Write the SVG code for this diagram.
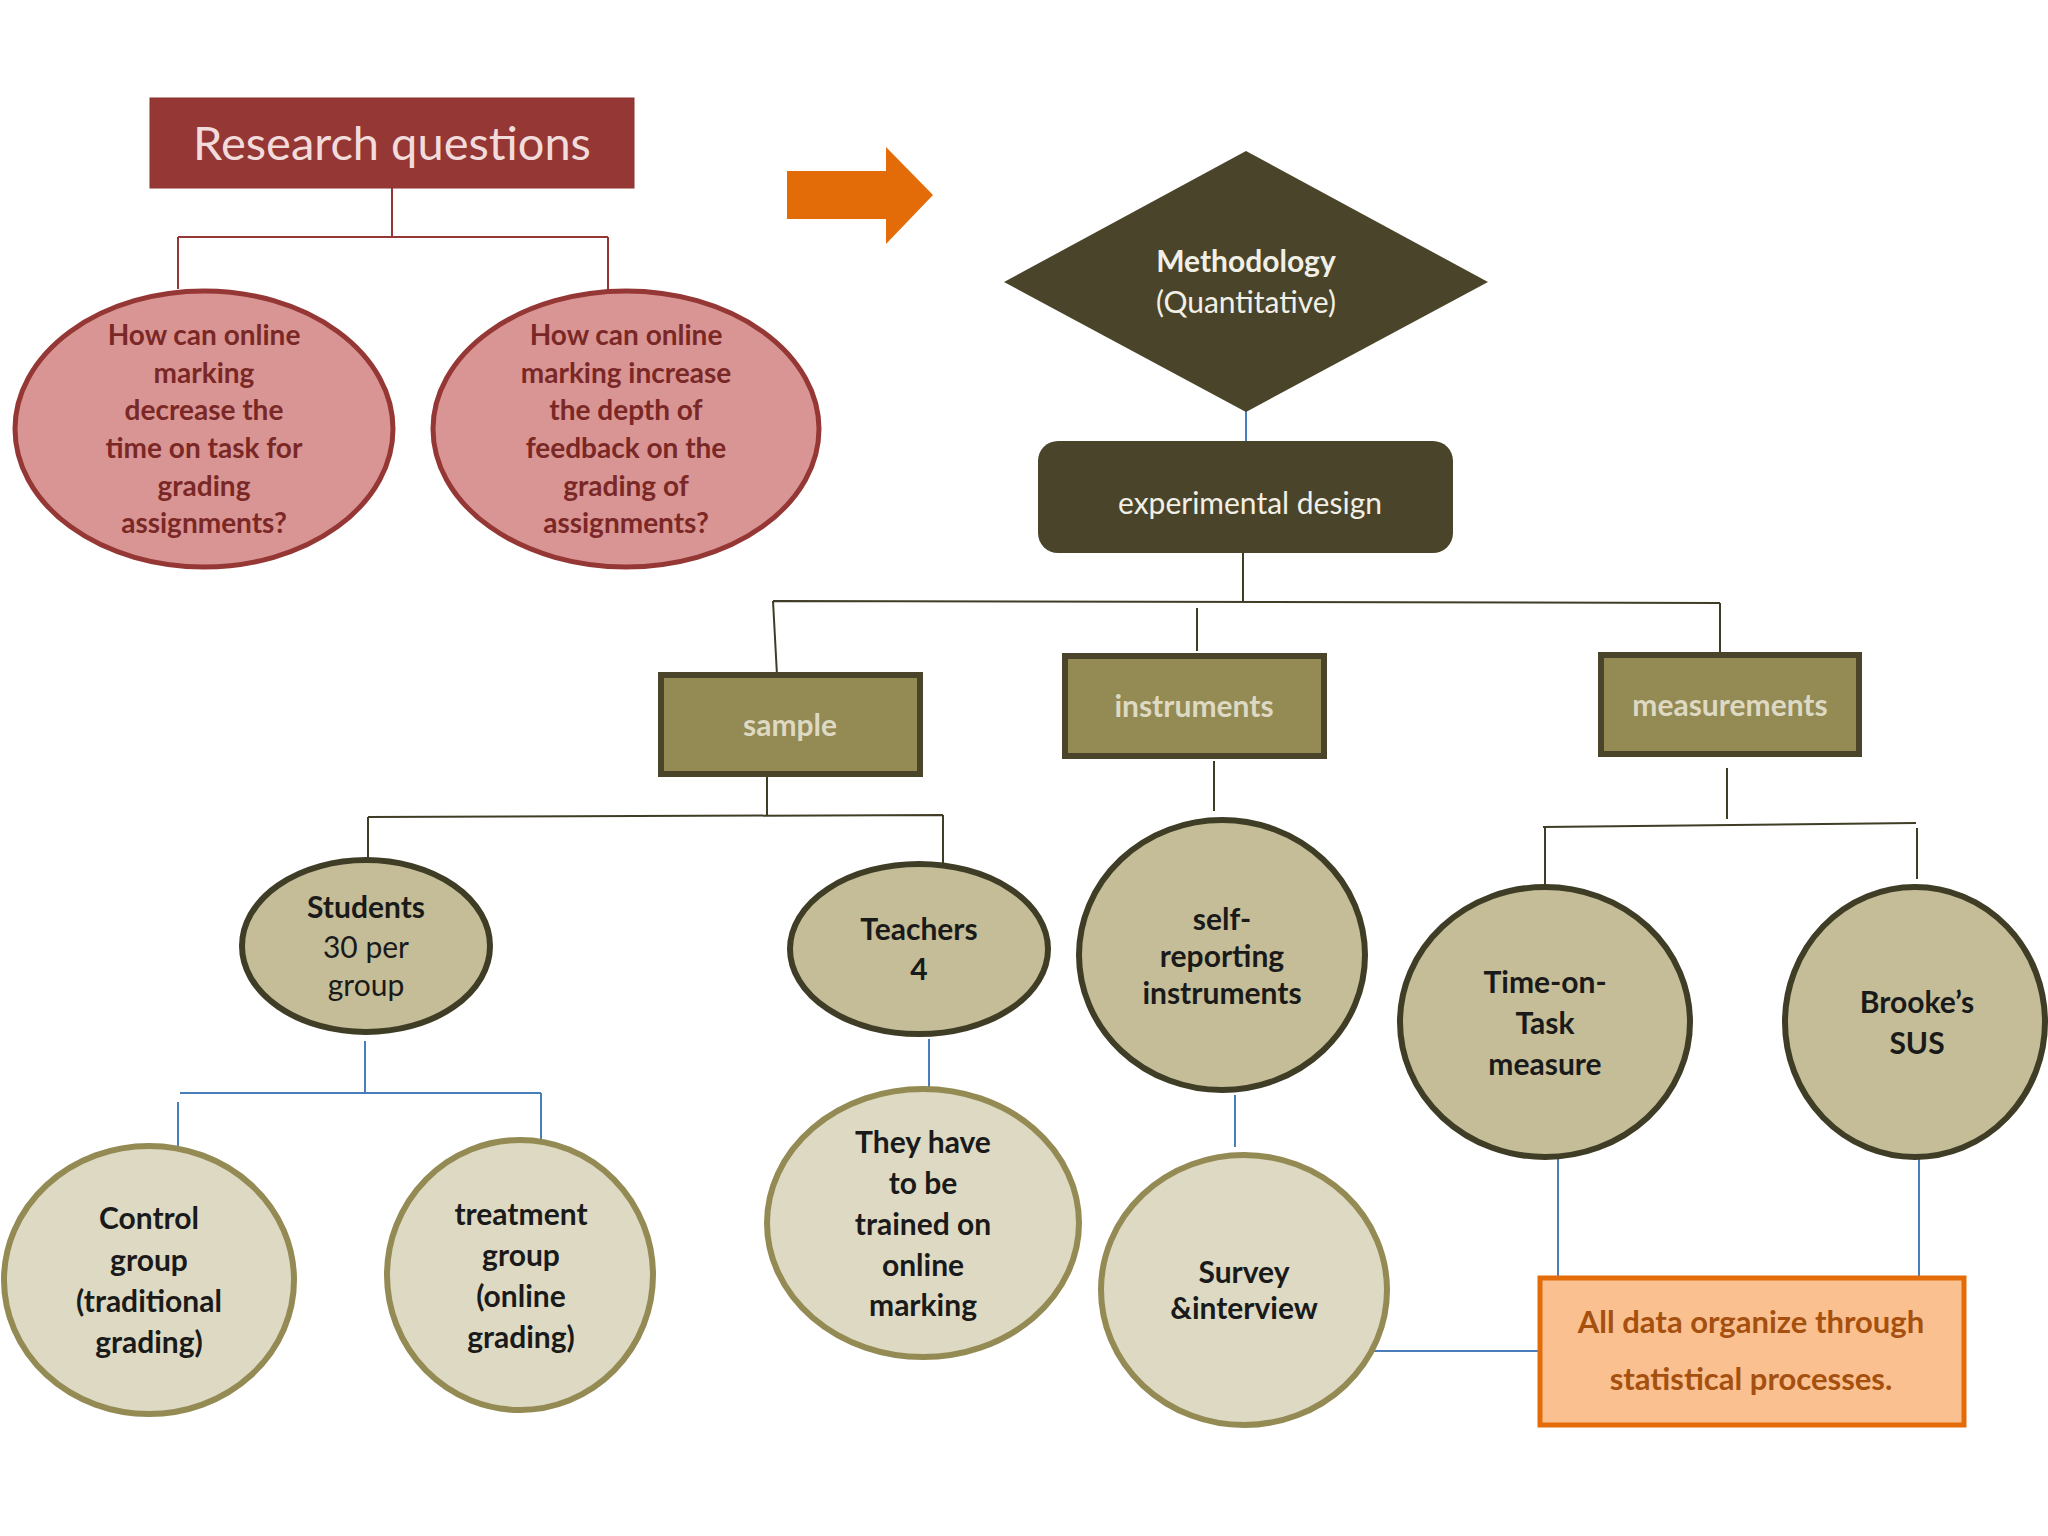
<svg xmlns="http://www.w3.org/2000/svg" width="2048" height="1536" viewBox="0 0 2048 1536">
<style>
text{font-family:Lato,"Open Sans","Liberation Sans",sans-serif;text-anchor:middle}
.rq{fill:#d99594;stroke:#953735;stroke-width:5}
.rqt{fill:#7a2826;font-weight:bold;font-size:28px}
.mid{fill:#c4bd97;stroke:#3f3d26;stroke-width:6}
.light{fill:#ddd9c3;stroke:#948a54;stroke-width:6}
.box{fill:#948a54;stroke:#4a452a;stroke-width:6}
.boxt{fill:#ddd9c3;font-weight:bold;font-size:30px}
.nt{fill:#1a1a1a;font-weight:bold;font-size:30px}
.nn{fill:#1a1a1a;font-weight:normal;font-size:30px}
.red{stroke:#953735;stroke-width:2;fill:none}
.dark{stroke:#3f3d26;stroke-width:2;fill:none}
.blue{stroke:#4a7ebb;stroke-width:2;fill:none}
</style>
<rect width="2048" height="1536" fill="#ffffff"/>
<g id="connectors">
<path class="red" d="M392 188V237M178 237H608M178 237V289M608 237V289"/>
<path class="blue" d="M1246 392V441"/>
<path class="dark" d="M1243 553V602M773 601L1720 603M773 601L777 675M1197 608V651M1720 603V655"/>
<path class="dark" d="M767 774V816M368 817L943 815M368 817V859M943 815V884"/>
<path class="blue" d="M365 1041V1093M180 1093H541M178 1102V1150M541 1093V1140"/>
<path class="blue" d="M929 1039V1088"/>
<path class="dark" d="M1214 761V811"/>
<path class="blue" d="M1235 1095V1147"/>
<path class="dark" d="M1727 768V819M1543 827L1916 823M1545 827V886M1917 828V879"/>
<path class="blue" d="M1558 1158V1278M1919 1158V1278M1367 1351H1540"/>
</g>
<g id="research-questions">
<rect x="150" y="98" width="484" height="90" fill="#953735" stroke="#8c3230" stroke-width="1"/>
<text x="392" y="160" font-size="47" fill="#f2dcdb">Research questions</text>
</g>
<g id="rq1">
<ellipse class="rq" cx="204" cy="429" rx="189" ry="138"/>
<text class="rqt" x="204" y="345">How can online</text>
<text class="rqt" x="204" y="383">marking</text>
<text class="rqt" x="204" y="420">decrease the</text>
<text class="rqt" x="204" y="458">time on task for</text>
<text class="rqt" x="204" y="496">grading</text>
<text class="rqt" x="204" y="533">assignments?</text>
</g>
<g id="rq2">
<ellipse class="rq" cx="626" cy="429" rx="193" ry="138"/>
<text class="rqt" x="626" y="345">How can online</text>
<text class="rqt" x="626" y="383">marking increase</text>
<text class="rqt" x="626" y="420">the depth of</text>
<text class="rqt" x="626" y="458">feedback on the</text>
<text class="rqt" x="626" y="496">grading of</text>
<text class="rqt" x="626" y="533">assignments?</text>
</g>
<g id="arrow">
<polygon points="787,171 886,171 886,147 933,195 886,244 886,219 787,219" fill="#e36c09"/>
</g>
<g id="methodology">
<polygon points="1246,151 1488,282 1246,412 1004,282" fill="#4a452a"/>
<text x="1246" y="272" font-size="30" font-weight="bold" fill="#f2f0e6">Methodology</text>
<text x="1246" y="313" font-size="30" fill="#f2f0e6">(Quantitative)</text>
</g>
<g id="experimental-design">
<rect x="1038" y="441" width="415" height="112" rx="20" fill="#4a452a"/>
<text x="1250" y="514" font-size="30" fill="#f2f0e6">experimental design</text>
</g>
<g id="sample">
<rect class="box" x="661" y="675" width="259" height="99"/>
<text class="boxt" x="790" y="736">sample</text>
</g>
<g id="instruments">
<rect class="box" x="1065" y="656" width="259" height="100"/>
<text class="boxt" x="1194" y="717">instruments</text>
</g>
<g id="measurements">
<rect class="box" x="1601" y="655" width="258" height="99"/>
<text class="boxt" x="1730" y="716">measurements</text>
</g>
<g id="students">
<ellipse class="mid" cx="366" cy="946" rx="124" ry="86"/>
<text class="nt" x="366" y="918">Students</text>
<text class="nn" x="366" y="958">30 per</text>
<text class="nn" x="366" y="996">group</text>
</g>
<g id="teachers">
<ellipse class="mid" cx="919" cy="949" rx="129" ry="85"/>
<text class="nt" x="919" y="940">Teachers</text>
<text class="nt" x="919" y="980">4</text>
</g>
<g id="self-reporting">
<ellipse class="mid" cx="1222" cy="955" rx="143" ry="135"/>
<text class="nt" x="1222" y="930">self-</text>
<text class="nt" x="1222" y="967">reporting</text>
<text class="nt" x="1222" y="1004">instruments</text>
</g>
<g id="time-on-task">
<ellipse class="mid" cx="1545" cy="1022" rx="145" ry="135"/>
<text class="nt" x="1545" y="993">Time-on-</text>
<text class="nt" x="1545" y="1034">Task</text>
<text class="nt" x="1545" y="1075">measure</text>
</g>
<g id="brookes-sus">
<ellipse class="mid" cx="1915" cy="1022" rx="130" ry="135"/>
<text class="nt" x="1917" y="1013">Brooke’s</text>
<text class="nt" x="1917" y="1054">SUS</text>
</g>
<g id="control">
<ellipse class="light" cx="149" cy="1280" rx="145" ry="134"/>
<text class="nt" x="149" y="1229">Control</text>
<text class="nt" x="149" y="1271">group</text>
<text class="nt" x="149" y="1312">(traditional</text>
<text class="nt" x="149" y="1353">grading)</text>
</g>
<g id="treatment">
<ellipse class="light" cx="520" cy="1275" rx="133" ry="135"/>
<text class="nt" x="521" y="1225">treatment</text>
<text class="nt" x="521" y="1266">group</text>
<text class="nt" x="521" y="1307">(online</text>
<text class="nt" x="521" y="1348">grading)</text>
</g>
<g id="they-have">
<ellipse class="light" cx="923" cy="1223" rx="156" ry="134"/>
<text class="nt" x="923" y="1153">They have</text>
<text class="nt" x="923" y="1194">to be</text>
<text class="nt" x="923" y="1235">trained on</text>
<text class="nt" x="923" y="1276">online</text>
<text class="nt" x="923" y="1316">marking</text>
</g>
<g id="survey">
<ellipse class="light" cx="1244" cy="1290" rx="143" ry="135"/>
<text class="nt" x="1244" y="1283" font-size="28">Survey</text>
<text class="nt" x="1244" y="1319" font-size="28">&amp;interview</text>
</g>
<g id="all-data">
<rect x="1540" y="1278" width="424" height="147" fill="#fac090" stroke="#e36c09" stroke-width="5"/>
<text x="1751" y="1333" font-size="31" font-weight="bold" fill="#a5500f">All data organize through</text>
<text x="1751" y="1390" font-size="31" font-weight="bold" fill="#a5500f">statistical processes.</text>
</g>
</svg>
